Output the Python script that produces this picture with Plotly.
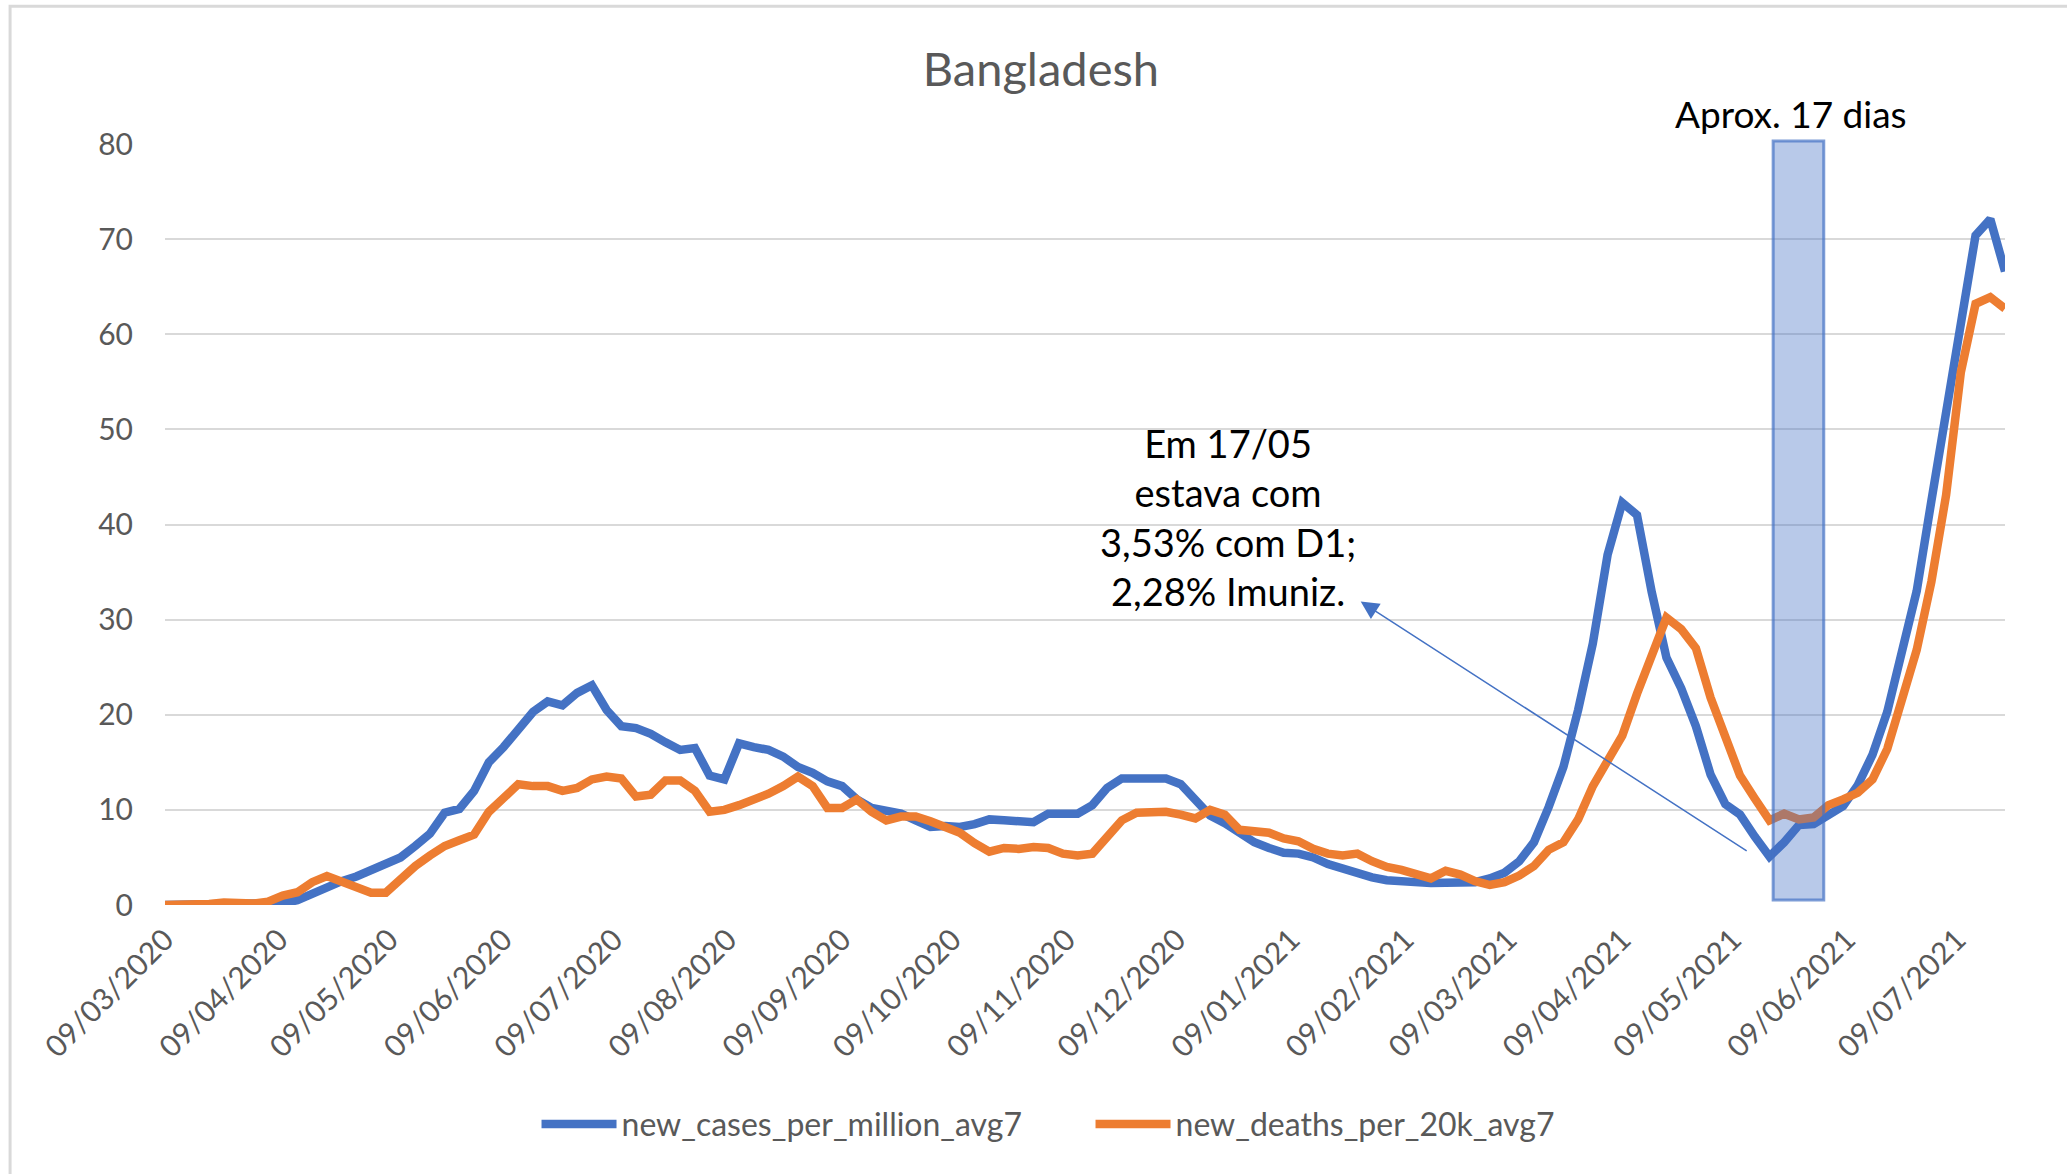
import pandas as pd
import plotly.graph_objects as go

# values, one every 4 days from 09/03/2020 to 22/07/2021
start_date = "2020-03-09"
step = "4D"

new_cases_per_million_avg7 = [
    0.0, 0.0, 0.0, 0.0, 0.05, 0.05, 0.02, 0.05, 0.2, 0.5,
    1.2, 2.0, 2.5, 3.0, 3.6, 4.2, 5.0, 6.2, 7.5, 9.7,
    10.1, 12.0, 15.0, 16.6, 18.3, 20.3, 21.4, 21.0, 22.3, 23.1,
    20.5, 18.8, 18.6, 18.0, 17.1, 16.3, 16.5, 13.6, 13.2, 17.0,
    16.6, 16.3, 15.6, 14.5, 13.9, 13.0, 12.5, 11.1, 10.2, 9.9,
    9.6, 8.9, 8.2, 8.3, 8.2, 8.5, 9.0, 8.9, 8.7, 8.7,
    9.6, 9.7, 9.6, 10.5, 12.3, 13.3, 13.3, 13.2, 13.3, 12.7,
    11.2, 9.4, 8.6, 7.5, 6.6, 6.0, 5.5, 5.4, 5.0, 4.3,
    3.8, 3.4, 2.9, 2.6, 2.5, 2.2, 2.3, 2.35, 2.35, 2.4,
    2.8, 3.4, 4.6, 6.6, 10.3, 14.5, 20.5, 27.5, 36.8, 42.3,
    41.0, 32.9, 26.0, 22.8, 18.8, 13.7, 10.6, 9.5, 7.2, 5.1,
    6.6, 8.4, 8.5, 9.4, 10.4, 12.6, 15.8, 20.3, 26.5, 33.0,
    42.5, 52.2, 60.5, 70.4, 72.1, 66.6,
]

new_deaths_per_20k_avg7 = [
    0.0, 0.0, 0.02, 0.1, 0.25, 0.2, 0.15, 0.35, 1.0, 1.35,
    2.4, 3.05, 2.4, 1.8, 1.3, 1.3, 2.8, 4.1, 5.2, 6.2,
    6.8, 7.4, 9.8, 11.4, 12.7, 12.5, 12.5, 12.0, 12.3, 13.2,
    13.5, 13.3, 11.4, 11.6, 13.1, 13.1, 12.0, 9.8, 10.0, 10.5,
    11.0, 11.7, 12.5, 13.5, 12.5, 10.2, 10.2, 11.1, 9.8, 8.9,
    9.3, 9.3, 8.8, 8.2, 7.6, 6.5, 5.6, 6.0, 5.9, 6.1,
    6.0, 5.4, 5.2, 5.4, 7.0, 8.9, 9.7, 9.8, 9.8, 9.5,
    9.1, 10.0, 9.5, 7.9, 7.8, 7.6, 7.0, 6.7, 5.9, 5.4,
    5.2, 5.4, 4.6, 4.0, 3.7, 3.3, 2.8, 3.6, 3.2, 2.5,
    2.1, 2.4, 3.1, 4.1, 5.8, 6.6, 9.0, 12.5, 15.3, 17.8,
    22.2, 26.2, 30.2, 29.0, 27.0, 21.8, 17.6, 13.6, 11.2, 8.9,
    9.6, 9.0, 9.2, 10.5, 11.1, 11.8, 13.2, 16.4, 21.6, 26.8,
    34.0, 43.1, 56.0, 63.2, 63.9, 62.7,
]

tick_dates = [
    "2020-03-09", "2020-04-09", "2020-05-09", "2020-06-09", "2020-07-09",
    "2020-08-09", "2020-09-09", "2020-10-09", "2020-11-09", "2020-12-09",
    "2021-01-09", "2021-02-09", "2021-03-09", "2021-04-09", "2021-05-09",
    "2021-06-09", "2021-07-09",
]

dates = pd.date_range(start_date, periods=len(new_cases_per_million_avg7), freq=step)

grey = "#595959"
font = "Lato"

fig = go.Figure()

fig.add_trace(go.Scatter(
    x=dates,
    y=new_cases_per_million_avg7,
    mode="lines",
    name="new_cases_per_million_avg7",
    line=dict(color="#4472C4", width=8.5)
))

fig.add_trace(go.Scatter(
    x=dates,
    y=new_deaths_per_20k_avg7,
    mode="lines",
    name="new_deaths_per_20k_avg7",
    line=dict(color="#ED7D31", width=8.5)
))

# highlighted window after 17/05
fig.add_shape(
    type="rect",
    xref="x", yref="paper",
    x0="2021-05-20", x1="2021-06-02 18:00",
    y0=0.0066, y1=1.004,
    fillcolor="rgba(68,114,196,0.38)",
    line=dict(color="rgba(68,114,196,0.7)", width=3),
    layer="above"
)

# chart border
fig.add_shape(
    type="rect",
    xref="paper", yref="paper",
    x0=-0.0842, x1=1.05, y0=-0.4, y1=1.181,
    line=dict(color="#D9D9D9", width=3),
    layer="below"
)

fig.add_annotation(
    xref="paper", yref="paper",
    x=0.8837, y=1.0407,
    text="Aprox. 17 dias",
    showarrow=False,
    font=dict(family=font, size=37, color="black"),
    xanchor="center", yanchor="middle"
)

fig.add_annotation(
    xref="paper", yref="paper",
    x=0.5777, y=0.5099,
    text="Em 17/05<br>estava com<br>3,53% com D1;<br>2,28% Imuniz.",
    showarrow=False,
    align="center",
    font=dict(family=font, size=38, color="black"),
    xanchor="center", yanchor="middle"
)

fig.add_annotation(
    xref="x", yref="y",
    x="2021-01-27 22:00", y=31.9,
    axref="x", ayref="y",
    ax="2021-05-13 05:00", ay=5.6,
    text="",
    showarrow=True,
    arrowhead=2,
    arrowsize=2.4,
    arrowwidth=1.5,
    arrowcolor="#4472C4",
    standoff=0,
    startstandoff=0
)

fig.update_layout(
    width=2067,
    height=1174,
    autosize=False,
    template="plotly_white",
    paper_bgcolor="white",
    plot_bgcolor="white",
    margin=dict(l=165, r=62, t=144, b=269),
    font=dict(family=font, color=grey),
    title=dict(
        text="Bangladesh",
        x=0.5036, y=0.941,
        xanchor="center", yanchor="middle",
        font=dict(family=font, size=47, color=grey)
    ),
    legend=dict(
        orientation="h",
        x=0.503, y=-0.288,
        xanchor="center", yanchor="middle",
        font=dict(family=font, size=32, color=grey),
        itemwidth=75,
        entrywidth=464,
        entrywidthmode="pixels"
    ),
    showlegend=True
)

fig.update_xaxes(
    type="date",
    range=[dates[0], dates[-1]],
    tickvals=tick_dates,
    tickformat="%d/%m/%Y",
    tickangle=-45,
    tickfont=dict(family=font, size=30, color=grey),
    showgrid=False,
    showline=False,
    zeroline=False,
    ticks="",
    ticklabelstandoff=10
)

fig.update_yaxes(
    range=[0, 80],
    dtick=10,
    tickfont=dict(family=font, size=30, color=grey),
    gridcolor="#D9D9D9",
    gridwidth=2,
    zeroline=False,
    showline=False,
    ticks="",
    ticklabelstandoff=31
)

fig.write_html(
    "out.html",
    config={"displayModeBar": False},
    post_script="document.body.style.margin='0';"
)
